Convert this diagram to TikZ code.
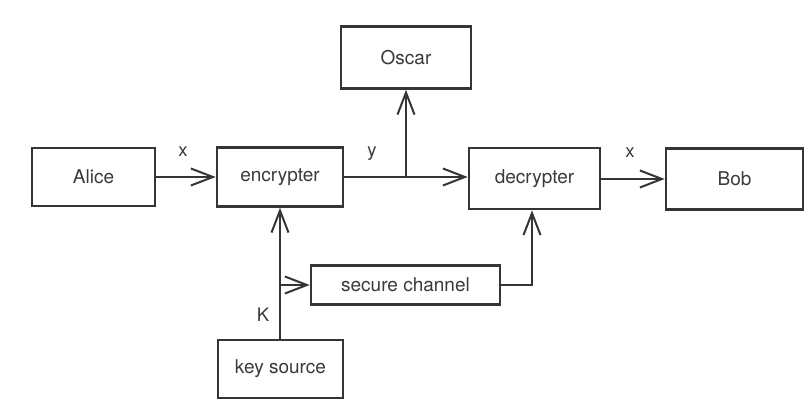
\documentclass[tikz,border=0pt]{standalone}
\usepackage{fontspec}
\setmainfont{TeX Gyre Heros}
\usetikzlibrary{arrows.meta}
\definecolor{ink}{HTML}{353535}
\definecolor{txt}{HTML}{3A3A3A}
\begin{document}
\begin{tikzpicture}[x=1pt,y=-1pt,
  block/.style={draw=ink, line width=2.6pt, fill=white, text=txt,
    font=\fontsize{19}{22}\selectfont, inner sep=0pt},
  link/.style={draw=ink, line width=2.2pt},
  flow/.style={link, -{Straight Barb[length=22pt,width=17pt,line width=2pt]}},
  lbl/.style={text=txt, font=\fontsize{18.5}{21}\selectfont, inner sep=0pt}]
\useasboundingbox[fill=white] (0,0) rectangle (807,412);

% boxes
\node[block, minimum width=123pt, minimum height=58pt] (alice) at (93.5,177) {Alice};
\node[block, minimum width=126pt, minimum height=59pt] (enc) at (280,177) {encrypter};
\node[block, minimum width=130pt, minimum height=62pt] (oscar) at (406,57.5) {Oscar};
\node[block, minimum width=131pt, minimum height=61pt] (dec) at (534.5,178.5) {decrypter};
\node[block, minimum width=137pt, minimum height=61pt] (bob) at (734.5,179) {Bob};
\node[block, minimum width=189pt, minimum height=39pt] (chan) at (405.5,285) {secure channel};
\node[block, minimum width=125pt, minimum height=58pt] (keysrc) at (280.5,369) {key source};

% junction points
\coordinate (tap) at (406,177);
\coordinate (kfork) at (280,285);
\coordinate (kin) at (532,0);

% connectors
\draw[flow] (alice.east) -- (alice.east -| enc.west);
\draw[link] (enc.east) -- (tap);
\draw[flow] (tap) -- (dec.west |- tap);
\draw[flow] (tap) -- (tap |- oscar.south);
\draw[flow] (dec.east |- bob.west) -- (bob.west);
\draw[flow] (keysrc.north -| kfork) -- (kfork |- enc.south);
\draw[flow] (kfork) -- (chan.west);
\draw[flow] (chan.east) -| (kin |- dec.south);

% labels
\node[lbl] at (183,152) {x};
\node[lbl] at (372,154) {y};
\node[lbl] at (630,153) {x};
\node[lbl] at (263,315) {K};
\end{tikzpicture}
\end{document}
